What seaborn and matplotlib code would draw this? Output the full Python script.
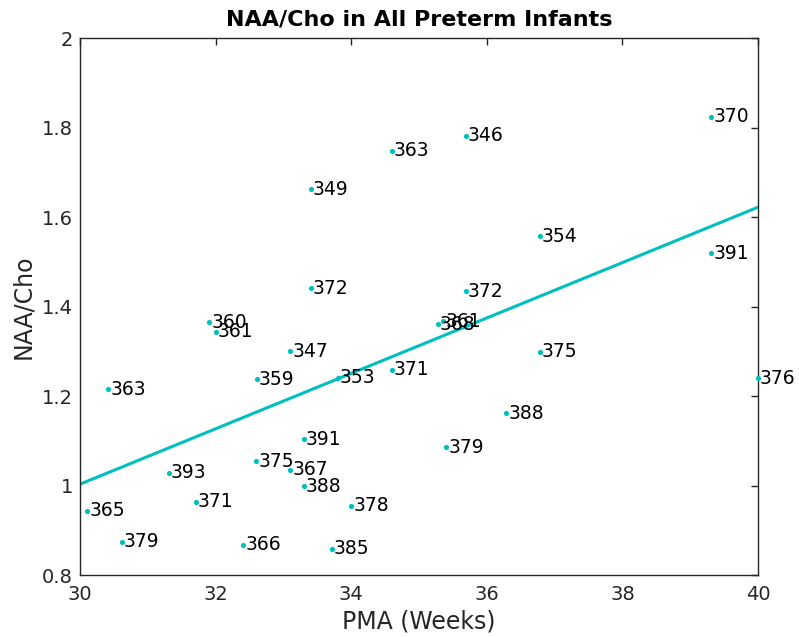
import numpy as np
import pandas as pd
import matplotlib
matplotlib.use("Agg")
import matplotlib.pyplot as plt
import seaborn as sns

# data
pma = [33.40, 31.91, 32.00, 33.10, 32.61, 33.80, 30.42, 33.30, 32.60, 33.10,
       31.31, 33.30, 31.71, 30.11, 34.00, 30.62, 32.41, 33.71,
       35.69, 34.60, 33.40, 36.78, 35.69, 35.28, 35.36, 36.78, 34.60,
       36.29, 35.40, 39.31, 39.31, 40.00]
naa_cho = [1.441, 1.365, 1.344, 1.300, 1.238, 1.241, 1.215, 1.103, 1.054, 1.035,
           1.028, 0.998, 0.964, 0.944, 0.955, 0.874, 0.868, 0.859,
           1.782, 1.748, 1.662, 1.557, 1.434, 1.360, 1.367, 1.299, 1.259,
           1.161, 1.086, 1.824, 1.519, 1.240]
subject_ids = ["372", "360", "361", "347", "359", "353", "363", "391", "375", "367",
               "393", "388", "371", "365", "378", "379", "366", "385",
               "346", "363", "349", "354", "372", "368", "361", "375", "371",
               "388", "379", "370", "391", "376"]

# regression line endpoints
fit_x = [30.0, 40.0]
fit_y = [1.003, 1.622]

df = pd.DataFrame({"PMA": pma, "NAA/Cho": naa_cho, "id": subject_ids})
fit_df = pd.DataFrame({"PMA": fit_x, "NAA/Cho": fit_y})

sns.set_style("white")
plt.rcParams['font.family'] = ['DejaVu Sans']

CYAN = "#00BFBF"
AX_COL = "#262626"

fig = plt.figure(figsize=(7.99, 6.37), dpi=100)
ax = fig.add_axes([0.1001, 0.0973, 0.8486, 0.843])

sns.lineplot(data=fit_df, x="PMA", y="NAA/Cho", color=CYAN, linewidth=2.2, ax=ax)
sns.scatterplot(data=df, x="PMA", y="NAA/Cho", color=CYAN, s=14, linewidth=0, ax=ax,
                clip_on=False, zorder=3)

for _, row in df.iterrows():
    ax.text(row["PMA"] + 0.03, row["NAA/Cho"], row["id"], fontsize=13.5, color="black",
            ha="left", va="center", clip_on=False)

ax.set_xlim(30, 40)
ax.set_ylim(0.8, 2.0)
ax.set_xticks([30, 32, 34, 36, 38, 40])
ax.set_yticks([0.8, 1.0, 1.2, 1.4, 1.6, 1.8, 2.0])
ax.set_xticklabels(["30", "32", "34", "36", "38", "40"])
ax.set_yticklabels(["0.8", "1", "1.2", "1.4", "1.6", "1.8", "2"])

ax.tick_params(direction="in", length=5, width=1, colors=AX_COL, labelsize=14,
               top=True, right=True)
ax.tick_params(axis="x", pad=7)
ax.tick_params(axis="y", pad=5)
for s in ax.spines.values():
    s.set_visible(True)
    s.set_color(AX_COL)
    s.set_linewidth(1)

ax.set_xlabel("PMA (Weeks)", fontsize=17, color=AX_COL, labelpad=4)
ax.set_ylabel("NAA/Cho", fontsize=17, color=AX_COL, labelpad=5)
ax.set_title("NAA/Cho in All Preterm Infants", fontsize=16, fontweight="bold",
             color="black", pad=9)

fig.savefig("out.png", dpi=100)
